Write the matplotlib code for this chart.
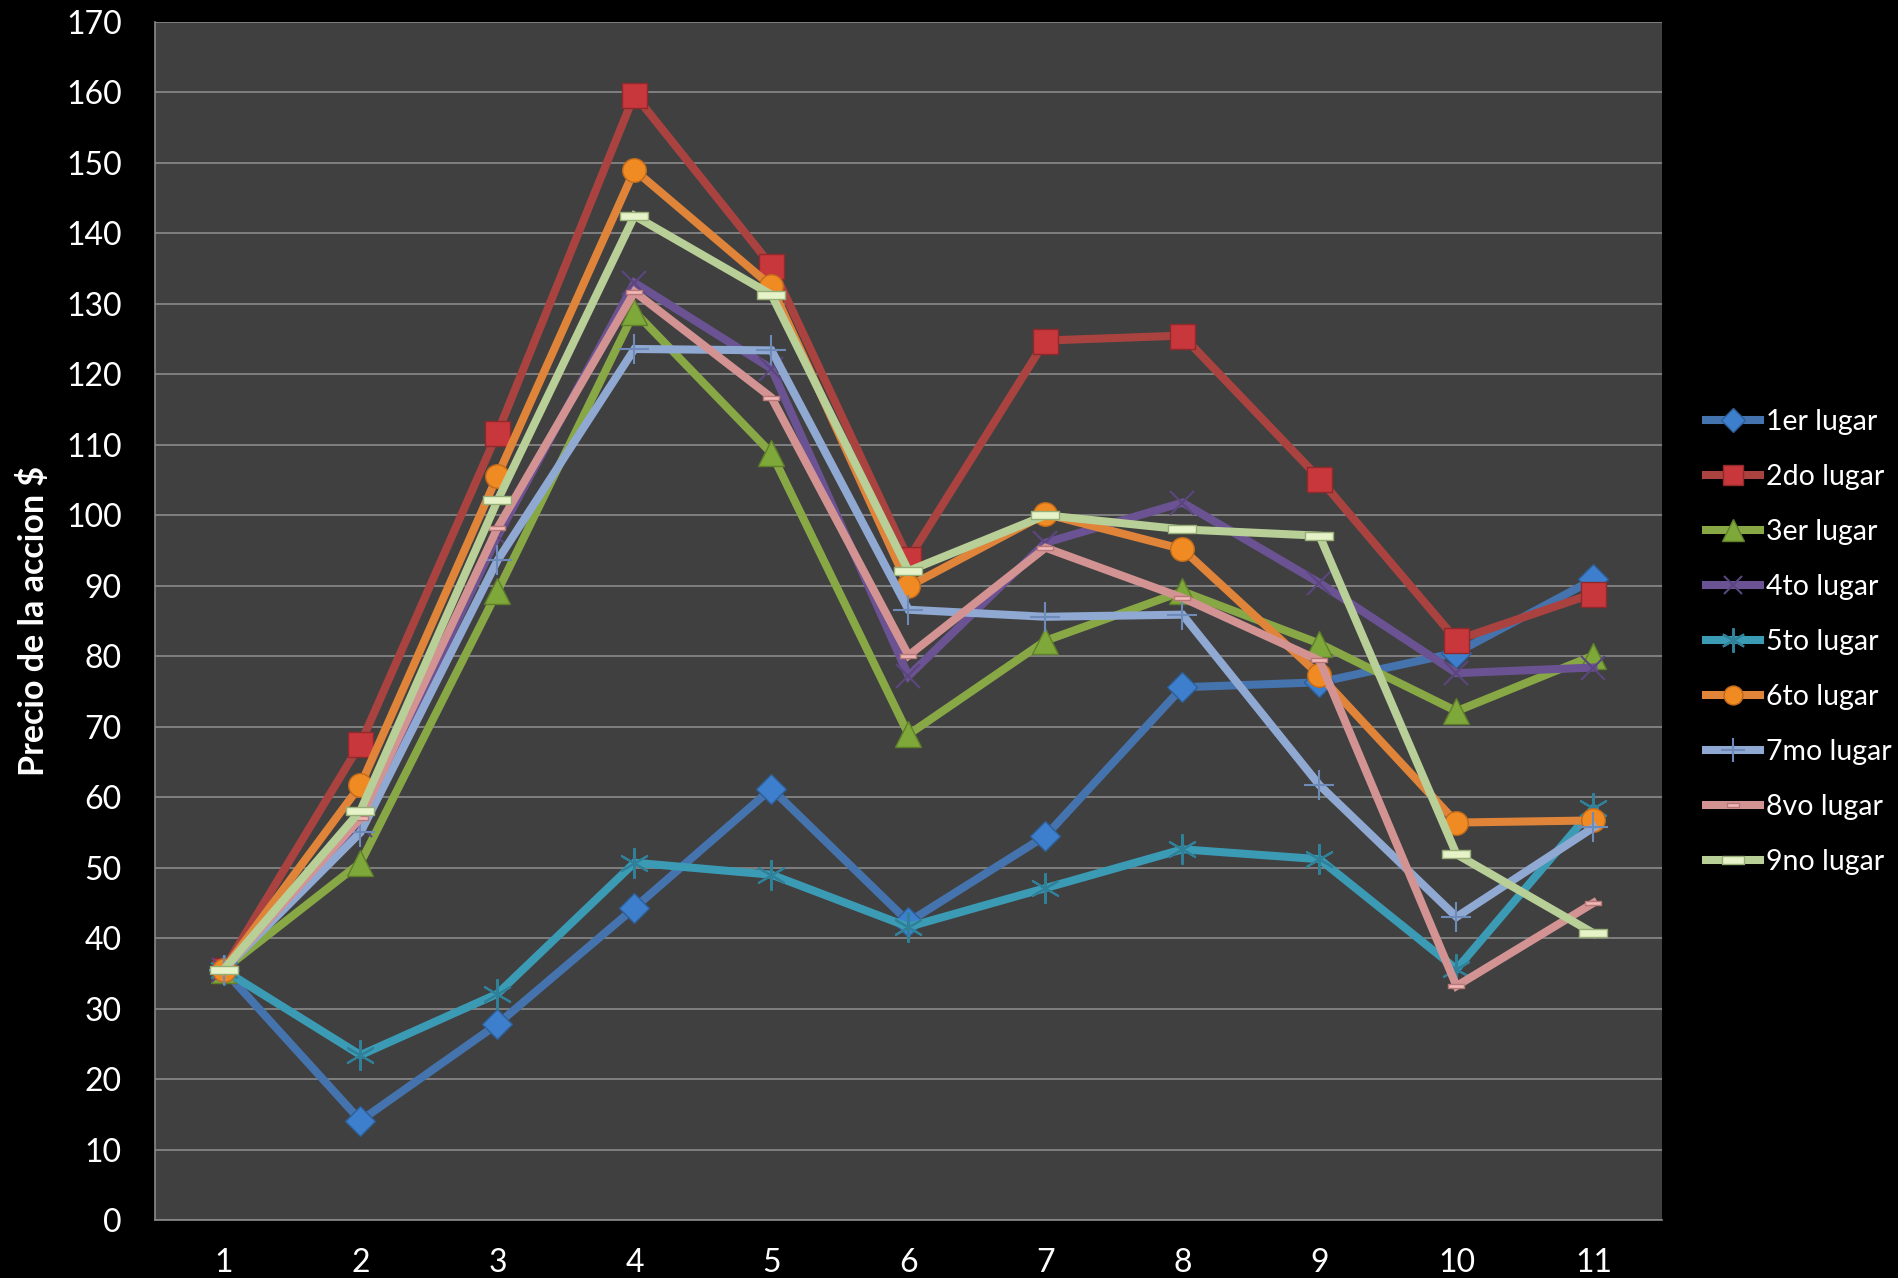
import numpy as np
import matplotlib.pyplot as plt
from matplotlib.path import Path

plt.rcParams['font.family'] = ['Lato', 'DejaVu Sans']

x = np.arange(1, 12)
labels = [str(i) for i in x]

lugar1 = [35.5, 14.1, 27.8, 44.3, 61.2, 42.3, 54.5, 75.6, 76.3, 80.5, 90.9]
lugar2 = [35.5, 67.6, 111.7, 159.7, 135.4, 93.8, 124.8, 125.5, 105.2, 82.3, 88.9]
lugar3 = [35.5, 50.7, 89.2, 128.9, 108.8, 68.9, 82.2, 89.2, 81.8, 72.2, 80.1]
lugar4 = [35.5, 56.0, 97.0, 133.0, 120.8, 77.2, 96.1, 101.8, 90.4, 77.6, 78.4]
lugar5 = [35.5, 23.4, 32.1, 50.7, 49.0, 41.6, 47.1, 52.6, 51.2, 35.6, 58.4]
lugar6 = [35.5, 61.7, 105.6, 149.0, 132.5, 89.9, 100.2, 95.2, 77.3, 56.4, 56.7]
lugar7 = [35.5, 55.0, 93.6, 123.6, 123.4, 86.6, 85.6, 85.9, 61.7, 43.0, 55.7]
lugar8 = [35.5, 57.0, 98.2, 131.7, 116.7, 80.1, 95.4, 88.3, 79.4, 33.2, 45.0]
lugar9 = [35.5, 58.1, 102.1, 142.5, 131.3, 92.1, 100.0, 98.0, 97.1, 51.9, 40.7]

names = ['1er lugar', '2do lugar', '3er lugar', '4to lugar', '5to lugar',
         '6to lugar', '7mo lugar', '8vo lugar', '9no lugar']

bar = Path([(-1, -0.32), (1, -0.32), (1, 0.32), (-1, 0.32), (-1, -0.32)],
           [Path.MOVETO, Path.LINETO, Path.LINETO, Path.LINETO, Path.CLOSEPOLY])

# color, marker, size, face, edge, edge width
styles = [
    ('#4573AE', 'D', 15, '#3D7FCC', '#2E5E96', 1.0),
    ('#AA4340', 's', 18, '#C8373B', '#8E2A2C', 1.0),
    ('#88A846', '^', 19, '#7FA83A', '#5F7F2A', 1.0),
    ('#6B5393', 'x', 17, 'none', '#5B4680', 1.5),
    ('#3B9BB5', (6, 2, 0), 22, 'none', '#2F8199', 1.5),
    ('#E0843A', 'o', 17, '#F08A22', '#C06A1C', 1.0),
    ('#8FA9D3', '+', 22, 'none', '#6E8AB8', 1.5),
    ('#D49393', bar, 11, '#F0B8B8', '#B87878', 1.0),
    ('#B8CF97', bar, 20, '#E6F2C8', '#98AE78', 1.0),
]

series = [lugar1, lugar2, lugar3, lugar4, lugar5, lugar6, lugar7, lugar8, lugar9]

fig = plt.figure(figsize=(18.99, 12.78), dpi=100, facecolor='black')
ax = fig.add_axes([155 / 1899, 1 - 1220 / 1278, 1507 / 1899, 1198 / 1278])
ax.set_facecolor('#404040')

for vals, name, (c, m, ms, fc, ec, mew) in zip(series, names, styles):
    ax.plot(x, vals, color=c, lw=5.8, marker=m, ms=ms, mfc=fc, mec=ec,
            mew=mew, label=name, solid_joinstyle='miter')

ax.set_xlim(0.5, 11.5)
ax.set_ylim(0, 170)
ax.set_yticks(np.arange(0, 171, 10))
ax.set_xticks(x)
ax.set_xticklabels(labels)
ax.grid(axis='y', color='#8a8a8a', lw=1.2)
ax.set_axisbelow(True)
ax.tick_params(colors='white', labelsize=23, length=0)
ax.tick_params(axis='y', pad=24)
ax.tick_params(axis='x', pad=20)
for s in ['top', 'right']:
    ax.spines[s].set_visible(False)
for s in ['left', 'bottom']:
    ax.spines[s].set_color('#8a8a8a')
    ax.spines[s].set_linewidth(1.2)

fig.text(34 / 1899, 1 - 621 / 1278, 'Precio de la accion $', rotation=90,
         color='white', fontsize=24.5, fontweight='bold', ha='center', va='center')

leg = fig.legend(loc='center left', bbox_to_anchor=(1692 / 1899, 1 - 642 / 1278),
                 frameon=False, fontsize=20.5, labelcolor='white', numpoints=1,
                 handlelength=1.9, handletextpad=0.2, labelspacing=1.02,
                 borderpad=0, markerscale=0.8)

fig.savefig('out.png', dpi=100, facecolor='black')
